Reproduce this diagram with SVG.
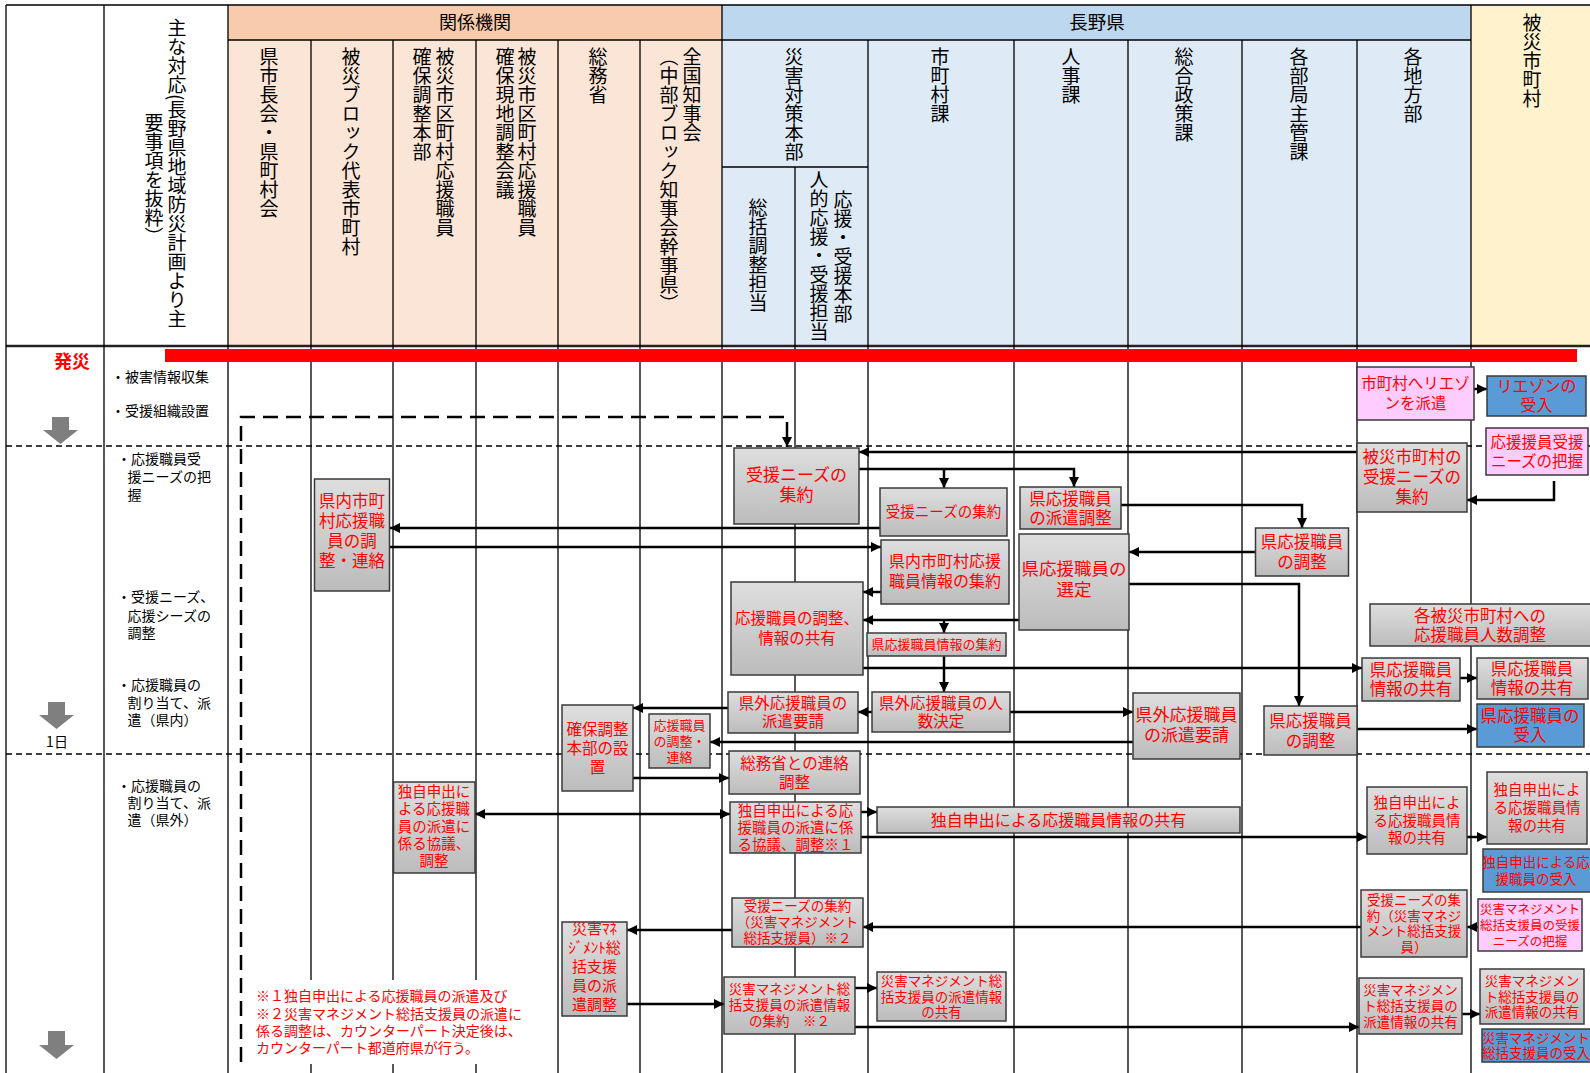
<svg xmlns="http://www.w3.org/2000/svg" width="1590" height="1073" viewBox="0 0 1590 1073">
<defs>
<linearGradient id="gg" x1="0" y1="0" x2="0" y2="1">
<stop offset="0" stop-color="#DEDEDE"/><stop offset="1" stop-color="#BCBCBC"/>
</linearGradient>
<marker id="ah" viewBox="0 0 10 10" refX="10" refY="5" markerWidth="10" markerHeight="10" markerUnits="userSpaceOnUse" orient="auto-start-reverse"><path d="M0,0 L10,5 L0,10 z" fill="#000"/></marker>
<style>
.gl{stroke:#000;stroke-width:1.3;fill:none}
.dl{stroke:#000;stroke-width:1.3;stroke-dasharray:6 4;fill:none}
.c{stroke:#000;stroke-width:2.5;fill:none;marker-end:url(#ah)}
.cb{marker-start:url(#ah)}
.dc{stroke:#000;stroke-width:2.5;fill:none;stroke-dasharray:15 8;marker-end:url(#ah)}
.g{fill:url(#gg);stroke:#3A3A3A;stroke-width:1.5}
.pk{fill:#FFCCFF;stroke:#3A3A3A;stroke-width:1.5}
.bl{fill:#5B9BD5;stroke:#3A3A3A;stroke-width:1.5}
text{font-family:"Noto Sans CJK JP","Noto Sans",sans-serif}
.t{fill:#FF0000;text-anchor:middle}
.v{writing-mode:vertical-rl;font-size:19px;fill:#000}
.lb{font-size:14px;fill:#000}
.ga{fill:#7F7F7F}
</style>
</defs>
<rect x="0" y="0" width="1590" height="1073" fill="#FFFFFF"/>
<g id="header">
<rect x="228" y="5" width="494" height="35" fill="#F8CBAD"/>
<rect x="228" y="40" width="494" height="306" fill="#FBE5D6"/>
<rect x="722" y="5" width="749" height="35" fill="#BDD7EE"/>
<rect x="722" y="40" width="749" height="306" fill="#DEEBF7"/>
<rect x="1471" y="5" width="119" height="341" fill="#FFF2CC"/>
<text x="475" y="28.5" font-size="18" text-anchor="middle">関係機関</text>
<text x="1097" y="28.5" font-size="18.5" text-anchor="middle">長野県</text>
<text class="v" x="177" y="18">主な対応(長野県地域防災計画より主</text>
<text class="v" x="154" y="113">要事項を抜粋）</text>
<text class="v" x="269" y="47">県市長会・県町村会</text>
<text class="v" x="351" y="47">被災ブロック代表市町村</text>
<text class="v" x="445" y="47">被災市区町村応援職員</text>
<text class="v" x="422" y="47">確保調整本部</text>
<text class="v" x="527" y="47">被災市区町村応援職員</text>
<text class="v" x="505" y="47">確保現地調整会議</text>
<text class="v" x="598" y="47">総務省</text>
<text class="v" x="692" y="47">全国知事会</text>
<text class="v" x="669" y="47">（中部ブロック知事会幹事県）</text>
<text class="v" x="794" y="47">災害対策本部</text>
<text class="v" x="758" y="198">総括調整担当</text>
<text class="v" x="843" y="190">応援・受援本部</text>
<text class="v" x="819" y="170">人的応援・受援担当</text>
<text class="v" x="940" y="47">市町村課</text>
<text class="v" x="1071" y="47">人事課</text>
<text class="v" x="1184" y="47">総合政策課</text>
<text class="v" x="1299" y="47">各部局主管課</text>
<text class="v" x="1413" y="47">各地方部</text>
<text class="v" x="1532" y="13">被災市町村</text>
</g>
<g id="grid">
<path class="gl" d="M6,5 H1590 M228,40 H1471 M722,167 H868"/>
<path d="M6,346 H1590" stroke="#222" stroke-width="2.5"/>
<path class="gl" d="M6,5 V1073 M104,5 V1073 M228,5 V1073 M311,40 V1073 M393,40 V1073 M476,40 V1073 M558,40 V1073 M640,40 V1073 M722,5 V1073 M795,167 V1073 M868,40 V1073 M1014,40 V1073 M1128,40 V1073 M1242,40 V1073 M1357,40 V1073 M1471,5 V1073"/>
<path class="dl" d="M6,446 H1590 M6,754 H1590"/>
<rect x="165" y="349" width="1412" height="13" fill="#FF0000"/>
<text x="72" y="368" font-size="18" font-weight="bold" fill="#FF0000" text-anchor="middle">発災</text>
<path class="ga" d="M52,417 H69 V430 H78 L60.5,444 L43,430 H52 Z"/>
<path class="ga" d="M48,702 H65 V715 H74 L56.5,729 L39,715 H48 Z"/>
<path class="ga" d="M48,1031 H65 V1045 H74 L56.5,1059 L39,1045 H48 Z"/>
<text x="57" y="747" font-size="14" text-anchor="middle">1日</text>
<text class="lb" x="111" y="382">・被害情報収集</text>
<text class="lb" x="111" y="416">・受援組織設置</text>
<text class="lb" x="117" y="464">・応援職員受</text>
<text class="lb" x="127.6" y="482">援ニーズの把</text>
<text class="lb" x="127.6" y="500">握</text>
<text class="lb" x="117" y="602">・受援ニーズ、</text>
<text class="lb" x="127.6" y="621">応援シーズの</text>
<text class="lb" x="127.6" y="638">調整</text>
<text class="lb" x="117" y="690">・応援職員の</text>
<text class="lb" x="127.6" y="708">割り当て、派</text>
<text class="lb" x="127.6" y="725">遣（県内）</text>
<text class="lb" x="117" y="791">・応援職員の</text>
<text class="lb" x="127.6" y="808">割り当て、派</text>
<text class="lb" x="127.6" y="825">遣（県外）</text>
<rect x="247" y="980" width="298" height="84" fill="#FFFFFF"/>
<g font-size="14" fill="#FF0000">
<text x="256" y="1001">※１独自申出による応援職員の派遣及び</text>
<text x="256" y="1019">※２災害マネジメント総括支援員の派遣に</text>
<text x="256" y="1036">係る調整は、カウンターパート決定後は、</text>
<text x="256" y="1053">カウンターパート都道府県が行う。</text>
</g>
</g>
<g id="connectors">
<path class="dc" d="M241,1062 V417 H787 V447"/>
<path class="c" d="M1357,452 H859"/>
<path class="c" d="M859,469 H1074 V487"/>
<path class="c" d="M944,469 V488"/>
<path class="c" d="M880,528 H390"/>
<path class="c" d="M390,547 H881"/>
<path class="c" d="M1121,505 H1302 V528"/>
<path class="c" d="M1255,552 H1129"/>
<path class="c" d="M1129,584 H1299 V706"/>
<path class="c" d="M881,592 H863"/>
<path class="c" d="M1019,620 H863"/>
<path class="c" d="M944,620 V633"/>
<path class="c" d="M944,656 V692"/>
<path class="c" d="M863,668 H1362"/>
<path class="c" d="M872,712 H858"/>
<path class="c" d="M1010,712 H1133"/>
<path class="c" d="M1133,742 H710"/>
<path class="c" d="M728,708 H633"/>
<path class="c" d="M633,778 H729"/>
<path class="c" d="M1357,729 H1477"/>
<path class="c" d="M1460,678 H1477"/>
<path class="c" d="M1474,389 H1487"/>
<path class="c" d="M1554,481 V500 H1467"/>
<path class="c cb" d="M475,814 H730"/>
<path class="c" d="M861,812 H877"/>
<path class="c" d="M861,837 H1367"/>
<path class="c" d="M1467,837 H1487"/>
<path class="c" d="M1361,927 H863"/>
<path class="c" d="M1478,927 H1467"/>
<path class="c" d="M732,930 H627"/>
<path class="c" d="M627,1004 H724"/>
<path class="c" d="M855,988 H877"/>
<path class="c" d="M855,1027 H1359"/>
<path class="c" d="M1462,1014 H1480"/>
</g>
<g id="n1"><rect class="pk" x="1357" y="367" width="117" height="53"/><text class="t" font-size="15.5" x="1415.5" y="388.6">市町村へリエゾ</text><text class="t" font-size="15.5" x="1415.5" y="408.6">ンを派遣</text></g>
<g id="n2"><rect class="bl" x="1487" y="376" width="99" height="40"/><text class="t" font-size="16" x="1536.5" y="392">リエゾンの</text><text class="t" font-size="16" x="1536.5" y="411">受入</text></g>
<g id="n3"><rect class="pk" x="1486" y="428" width="102" height="47"/><text class="t" font-size="15.5" x="1537" y="447.6">応援援員受援</text><text class="t" font-size="15.5" x="1537" y="466.6">ニーズの把握</text></g>
<g id="n4"><rect class="g" x="1357" y="443" width="110" height="69"/><text class="t" font-size="16.5" x="1412" y="463">被災市町村の</text><text class="t" font-size="16.5" x="1412" y="483">受援ニーズの</text><text class="t" font-size="16.5" x="1412" y="503">集約</text></g>
<g id="n5"><rect class="g" x="734" y="448" width="125" height="76"/><text class="t" font-size="17" x="796.5" y="481">受援ニーズの</text><text class="t" font-size="17" x="796.5" y="501">集約</text></g>
<g id="n6"><rect class="g" x="880" y="488" width="127" height="48"/><text class="t" font-size="14.5" x="943.5" y="517">受援ニーズの集約</text></g>
<g id="n7"><rect class="g" x="1020" y="487" width="101" height="42"/><text class="t" font-size="16.5" x="1070.5" y="504.5">県応援職員</text><text class="t" font-size="16.5" x="1070.5" y="523.5">の派遣調整</text></g>
<g id="n8"><rect class="g" x="314.5" y="479" width="75" height="112"/><text class="t" font-size="16.5" x="352" y="507">県内市町</text><text class="t" font-size="16.5" x="352" y="527">村応援職</text><text class="t" font-size="16.5" x="352" y="547">員の調</text><text class="t" font-size="16.5" x="352" y="567">整・連絡</text></g>
<g id="n9"><rect class="g" x="1255.5" y="528" width="93" height="48"/><text class="t" font-size="16.5" x="1302" y="548">県応援職員</text><text class="t" font-size="16.5" x="1302" y="568">の調整</text></g>
<g id="n10"><rect class="g" x="881" y="540" width="128" height="64"/><text class="t" font-size="16" x="945" y="567">県内市町村応援</text><text class="t" font-size="16" x="945" y="587">職員情報の集約</text></g>
<g id="n11"><rect class="g" x="1019" y="534" width="110" height="96"/><text class="t" font-size="17.5" x="1074" y="575">県応援職員の</text><text class="t" font-size="17.5" x="1074" y="596">選定</text></g>
<g id="n12"><rect class="g" x="731" y="582" width="132" height="93"/><text class="t" font-size="15.5" x="797" y="624">応援職員の調整、</text><text class="t" font-size="15.5" x="797" y="644">情報の共有</text></g>
<g id="n13"><rect class="g" x="867" y="633" width="139" height="23"/><text class="t" font-size="13" x="936.5" y="649">県応援職員情報の集約</text></g>
<g id="n14"><rect class="g" x="1370" y="604" width="222" height="42"/><text class="t" font-size="16.5" x="1480" y="621.5">各被災市町村への</text><text class="t" font-size="16.5" x="1480" y="640.5">応援職員人数調整</text></g>
<g id="n15"><rect class="g" x="1362" y="658" width="98" height="43"/><text class="t" font-size="16.5" x="1411" y="676">県応援職員</text><text class="t" font-size="16.5" x="1411" y="695">情報の共有</text></g>
<g id="n16"><rect class="g" x="1477" y="658" width="111" height="41"/><text class="t" font-size="16.5" x="1532" y="675">県応援職員</text><text class="t" font-size="16.5" x="1532" y="694">情報の共有</text></g>
<g id="n17"><rect class="bl" x="1477" y="704" width="107" height="43"/><text class="t" font-size="16.5" x="1530" y="722">県応援職員の</text><text class="t" font-size="16.5" x="1530" y="741">受入</text></g>
<g id="n18"><rect class="g" x="728" y="692" width="130" height="41"/><text class="t" font-size="15.5" x="793" y="709">県外応援職員の</text><text class="t" font-size="15.5" x="793" y="727">派遣要請</text></g>
<g id="n19"><rect class="g" x="872" y="692" width="138" height="40"/><text class="t" font-size="15.5" x="941" y="708.6">県外応援職員の人</text><text class="t" font-size="15.5" x="941" y="726.6">数決定</text></g>
<g id="n20"><rect class="g" x="1133" y="693" width="107" height="66"/><text class="t" font-size="17" x="1186.5" y="721">県外応援職員</text><text class="t" font-size="17" x="1186.5" y="741">の派遣要請</text></g>
<g id="n21"><rect class="g" x="1264" y="706" width="93" height="49"/><text class="t" font-size="16.5" x="1310.5" y="726.5">県応援職員</text><text class="t" font-size="16.5" x="1310.5" y="746.5">の調整</text></g>
<g id="n22"><rect class="g" x="562" y="705" width="71" height="86"/><text class="t" font-size="15.5" x="597.5" y="734.6">確保調整</text><text class="t" font-size="15.5" x="597.5" y="753.6">本部の設</text><text class="t" font-size="15.5" x="597.5" y="772.6">置</text></g>
<g id="n23"><rect class="g" x="649" y="714" width="61" height="54"/><text class="t" font-size="13" x="679.5" y="729.7">応援職員</text><text class="t" font-size="13" x="679.5" y="745.7">の調整・</text><text class="t" font-size="13" x="679.5" y="761.7">連絡</text></g>
<g id="n24"><rect class="g" x="729" y="751" width="131" height="43"/><text class="t" font-size="15.5" x="794.5" y="768.6">総務省との連絡</text><text class="t" font-size="15.5" x="794.5" y="787.6">調整</text></g>
<g id="n25"><rect class="g" x="393.5" y="782" width="81.5" height="91"/><text class="t" font-size="14.5" x="434" y="797">独自申出に</text><text class="t" font-size="14.5" x="434" y="814">よる応援職</text><text class="t" font-size="14.5" x="434" y="831.5">員の派遣に</text><text class="t" font-size="14.5" x="434" y="848.5">係る協議、</text><text class="t" font-size="14.5" x="434" y="866">調整</text></g>
<g id="n26"><rect class="g" x="730" y="802" width="131" height="51"/><text class="t" font-size="14.5" x="795.5" y="815.7">独自申出による応</text><text class="t" font-size="14.5" x="795.5" y="832.7">援職員の派遣に係</text><text class="t" font-size="14.5" x="795.5" y="849.7">る協議、調整※１</text></g>
<g id="n27"><rect class="g" x="877" y="807" width="363" height="26"/><text class="t" font-size="16" x="1058.5" y="825.8">独自申出による応援職員情報の共有</text></g>
<g id="n28"><rect class="g" x="1367" y="787" width="100" height="67"/><text class="t" font-size="14.5" x="1417" y="808.2">独自申出によ</text><text class="t" font-size="14.5" x="1417" y="825.7">る応援職員情</text><text class="t" font-size="14.5" x="1417" y="843.2">報の共有</text></g>
<g id="n29"><rect class="g" x="1487" y="772" width="100" height="72"/><text class="t" font-size="14.5" x="1537" y="795.2">独自申出によ</text><text class="t" font-size="14.5" x="1537" y="813.2">る応援職員情</text><text class="t" font-size="14.5" x="1537" y="831.2">報の共有</text></g>
<g id="n30"><rect class="bl" x="1483" y="849" width="109" height="43"/><text class="t" font-size="13.5" x="1536" y="866.9">独自申出による応</text><text class="t" font-size="13.5" x="1536" y="883.9">援職員の受入</text></g>
<g id="n31"><rect class="g" x="732" y="898" width="131" height="49"/><text class="t" font-size="13.5" x="797.5" y="911">受援ニーズの集約</text><text class="t" font-size="13.5" x="797.5" y="927">（災害マネジメント</text><text class="t" font-size="13.5" x="797.5" y="943">総括支援員）※２</text></g>
<g id="n32"><rect class="g" x="1361" y="890" width="106" height="67"/><text class="t" font-size="13.5" x="1414" y="905">受援ニーズの集</text><text class="t" font-size="13.5" x="1414" y="920.5">約（災害マネジ</text><text class="t" font-size="13.5" x="1414" y="936">メント総括支援</text><text class="t" font-size="13.5" x="1414" y="951.5">員）</text></g>
<g id="n33"><rect class="pk" x="1478" y="899" width="104" height="52"/><text class="t" font-size="12.5" x="1530" y="913.5">災害マネジメント</text><text class="t" font-size="12.5" x="1530" y="929.5">総括支援員の受援</text><text class="t" font-size="12.5" x="1530" y="945.5">ニーズの把握</text></g>
<g id="n34"><rect class="g" x="562" y="922" width="65" height="94"/><text class="t" font-size="15" x="594.5" y="934">災害ﾏﾈ</text><text class="t" font-size="15" x="594.5" y="953">ｼﾞﾒﾝﾄ総</text><text class="t" font-size="15" x="594.5" y="972">括支援</text><text class="t" font-size="15" x="594.5" y="991">員の派</text><text class="t" font-size="15" x="594.5" y="1010">遣調整</text></g>
<g id="n35"><rect class="g" x="724" y="977" width="131" height="57"/><text class="t" font-size="13.5" x="789.5" y="994">災害マネジメント総</text><text class="t" font-size="13.5" x="789.5" y="1010">括支援員の派遣情報</text><text class="t" font-size="13.5" x="789.5" y="1026">の集約　※２</text></g>
<g id="n36"><rect class="g" x="877" y="972" width="129" height="49"/><text class="t" font-size="13.5" x="941.5" y="986">災害マネジメント総</text><text class="t" font-size="13.5" x="941.5" y="1001.5">括支援員の派遣情報</text><text class="t" font-size="13.5" x="941.5" y="1017">の共有</text></g>
<g id="n37"><rect class="g" x="1359" y="978" width="103" height="56"/><text class="t" font-size="13.5" x="1410.5" y="995">災害マネジメン</text><text class="t" font-size="13.5" x="1410.5" y="1011">ト総括支援員の</text><text class="t" font-size="13.5" x="1410.5" y="1027">派遣情報の共有</text></g>
<g id="n38"><rect class="g" x="1480" y="969" width="104" height="55"/><text class="t" font-size="13.5" x="1532" y="986">災害マネジメン</text><text class="t" font-size="13.5" x="1532" y="1001.5">ト総括支援員の</text><text class="t" font-size="13.5" x="1532" y="1017">派遣情報の共有</text></g>
<g id="n39"><rect class="bl" x="1482" y="1029" width="110" height="33"/><text class="t" font-size="13.5" x="1536" y="1043">災害マネジメント</text><text class="t" font-size="13.5" x="1536" y="1058">総括支援員の受入</text></g>
</svg>
